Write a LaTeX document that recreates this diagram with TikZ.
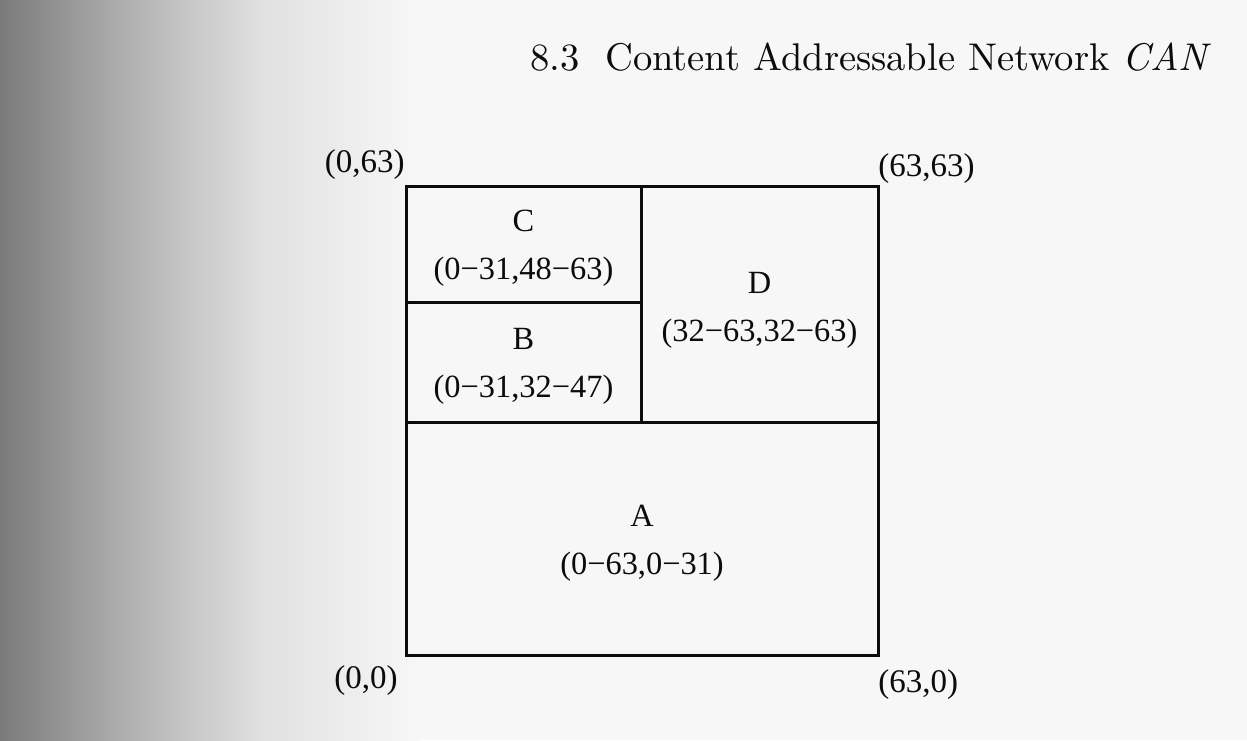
\documentclass[tikz,border=0pt]{standalone}
\usepackage{fontspec}
\usetikzlibrary{positioning}
\newfontfamily\labelfont{Liberation Serif}
\newfontfamily\headfont[Extension=.otf,ItalicFont=lmroman10-italic]{lmroman10-regular}
\definecolor{ink}{HTML}{0C0C0C}
\tikzset{
  zone/.style={draw=ink, line width=1.5pt, inner sep=0pt, outer sep=0pt},
  zonetext/.style={inner sep=0pt, align=center, text=ink,
                   font=\labelfont\fontsize{16.2}{24}\selectfont},
  corner/.style={inner sep=0pt, text=ink, font=\labelfont\fontsize{16.5}{19}\selectfont}
}

\begin{document}
\begin{tikzpicture}[x=0.5pt, y=-0.5pt]
  % scanned page, dark at the binding
  \fill[black!3] (0,0) rectangle (1247,740);
  \shade[left color=black!52, right color=black!32] (0,0) rectangle (120,740);
  \shade[left color=black!32, right color=black!12] (120,0) rectangle (260,740);
  \shade[left color=black!12, right color=black!3] (260,0) rectangle (420,740);
  \useasboundingbox (0,0) rectangle (1247,740);

  \node[text=ink, font=\headfont\fontsize{19.3}{23}\selectfont] (head) at (871,57)
    {8.3\ \ Content Addressable Network \textit{CAN}};

  % the four zones
  \node[zone, minimum width=236pt, minimum height=116.5pt] (A) at (642,538.5) {};
  \node[zone, minimum width=117.5pt, minimum height=60pt, above right=0pt and 0pt of A.north west] (B) {};
  \node[zone, minimum width=117.5pt, minimum height=58pt, above=0pt of B] (C) {};
  \node[zone, minimum width=118.5pt, minimum height=118pt, above right=0pt and 0pt of B.south east] (D) {};

  \node[zonetext] (labA) at ([yshift=-2.5pt]A.center) {A\\(0−63,0−31)};
  \node[zonetext] (labB) at ([yshift=-2pt]B.center) {B\\(0−31,32−47)};
  \node[zonetext] (labC) at ([yshift=-2pt]C.center) {C\\(0−31,48−63)};
  \node[zonetext] (labD) at ([yshift=-3pt]D.center) {D\\(32−63,32−63)};

  % corners
  \node[corner, above left=3pt and 0.5pt of C.north west] (tl) {(0,63)};
  \node[corner, above right=1pt and 0pt of D.north east] (tr) {(63,63)};
  \node[corner, below left=5pt and 4pt of A.south west] (bl) {(0,0)};
  \node[corner, below right=7pt and 0pt of A.south east] (br) {(63,0)};
\end{tikzpicture}
\end{document}
